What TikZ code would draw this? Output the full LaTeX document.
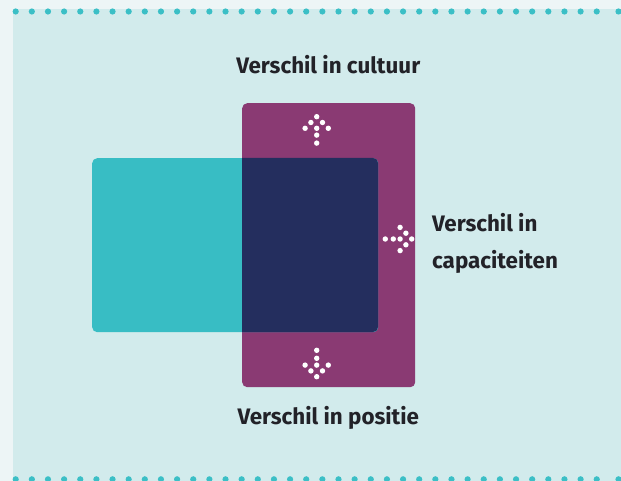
\documentclass[tikz,border=0pt]{standalone}
\usepackage{fontspec}
\setmainfont{Fira Sans}
\definecolor{outerbg}{HTML}{EDF5F6}
\definecolor{panelbg}{HTML}{D2EBEC}
\definecolor{dotteal}{HTML}{3BBFC6}
\definecolor{tealbox}{HTML}{38BDC4}
\definecolor{purplebox}{HTML}{8A3A73}
\definecolor{navybox}{HTML}{242E5E}
\definecolor{txt}{HTML}{222228}
\tikzset{
  label text/.style={font=\fontsize{22.4}{37}\selectfont\bfseries, text=txt, inner sep=0pt},
  wdot/.style={fill=white, draw=none},
  bdot/.style={fill=dotteal, draw=none},
}
\newcommand{\dotarrow}[3]{%
  \begin{scope}[shift={(#1,#2)}, rotate=#3]
    \foreach \p in {(0,0),(-5.8,5.8),(-5.8,-5.8),(-11.6,11.6),(-11.6,0),(-11.6,-11.6),(-18.4,0),(-26.4,0)}
      \fill[wdot] \p circle (2.7);
  \end{scope}}
\begin{document}
\begin{tikzpicture}[x=1pt,y=-1pt]
  \useasboundingbox (0,0) rectangle (621,481);
  \fill[outerbg] (0,0) rectangle (621,481);
  \fill[panelbg] (13,9) rectangle (621,481);
  % dotted borders
  \foreach \i in {0,...,36} {
    \fill[bdot] (15.7+16.14*\i,11.5) circle (3.1);
    \fill[bdot] (15.7+16.14*\i,479.3) circle (3.1);
  }
  \fill[bdot] (618.5,11.5) circle (3.1);
  \fill[bdot] (618.5,479.3) circle (3.1);
  % boxes
  \node[fill=purplebox, rounded corners=5pt, minimum width=173pt, minimum height=284pt, inner sep=0pt, anchor=north west] (culture) at (242,103) {};
  \node[fill=tealbox, rounded corners=5pt, minimum width=286pt, minimum height=174pt, inner sep=0pt, anchor=north west] (capacity) at (92,158) {};
  \begin{scope}
    \clip (242,100) rectangle (420,390);
    \fill[navybox, rounded corners=5pt] (92,158) rectangle (378,332);
  \end{scope}
  % arrows
  \dotarrow{316.7}{116.7}{90}
  \dotarrow{411.7}{239}{0}
  \dotarrow{316.7}{376.7}{-90}
  % labels
  \node[label text, anchor=base] (t1) at (328.3,74) {Verschil in cultuur};
  \node[label text, anchor=base west] (t2a) at (432,231.7) {Verschil in};
  \node[label text, anchor=base west] (t2b) at (432,269) {capaciteiten};
  \node[label text, anchor=base] (t3) at (328.3,424) {Verschil in positie};
\end{tikzpicture}
\end{document}
